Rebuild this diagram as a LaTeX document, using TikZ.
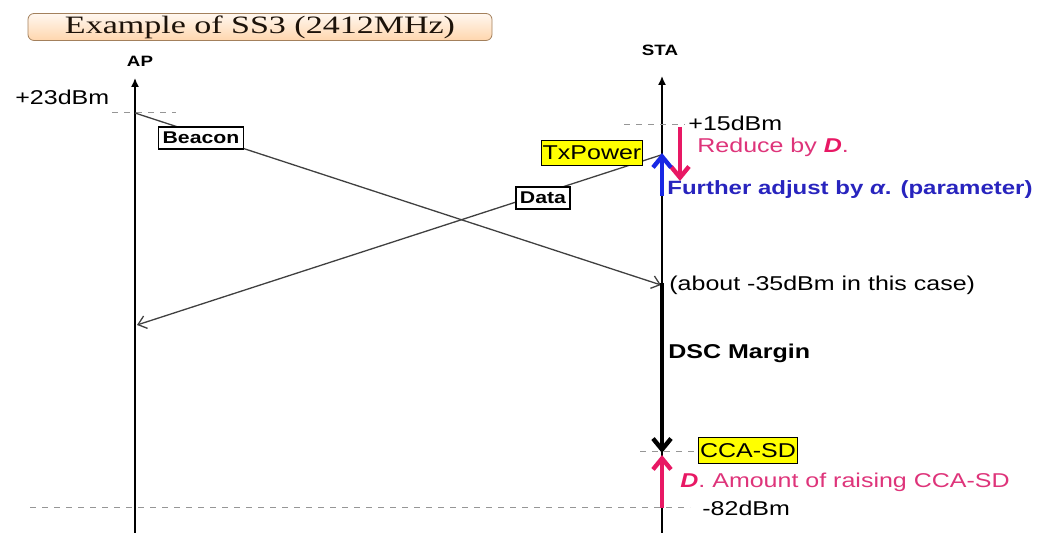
\documentclass[tikz,border=0pt]{standalone}
\usepackage{graphicx, amsmath, fontspec}
\setmainfont{Liberation Sans}[FakeStretch=1.25]
\newfontfamily\titlefont{Liberation Serif}[FakeStretch=1.36]
\usetikzlibrary{arrows.meta}

\definecolor{rosered}{RGB}{232,24,100}
\definecolor{rosetext}{RGB}{222,52,122}
\definecolor{adjblue}{RGB}{24,40,228}
\definecolor{adjtext}{RGB}{40,36,190}
\definecolor{guide}{RGB}{150,150,150}
\definecolor{msgline}{RGB}{64,64,64}
\definecolor{hilite}{RGB}{255,255,0}

\begin{document}
\begin{tikzpicture}[x=0.5pt, y=-0.5pt,
    lbl/.style={inner sep=0pt, anchor=west, font=\fontsize{10}{12}\selectfont},
    boldlbl/.style={inner sep=0pt, font=\fontsize{7.5}{9}\selectfont\bfseries},
    msgbox/.style={draw, fill=white, inner xsep=2pt, inner ysep=2.5pt, line width=0.6pt, font=\fontsize{8.5}{10}\selectfont\bfseries},
    markbox/.style={draw, fill=hilite, inner xsep=0.8pt, inner ysep=2.8pt, line width=0.5pt, font=\fontsize{10}{12}\selectfont},
    axis/.style={line width=0.75pt, -{Latex[length=4.5pt,width=4pt]}},
    msg/.style={draw=msgline, line width=0.65pt, -{Straight Barb[length=4pt,width=6.5pt]}},
    level/.style={draw=guide, dashed, line width=0.5pt},
    bigarrow/.style={line width=2.2pt, -{Straight Barb[length=5.5pt,width=9pt]}}]
    \useasboundingbox (0,0) rectangle (1045,533);

    % Title
    \node[draw=brown!55!gray, rounded corners=3pt, top color=orange!6, bottom color=orange!32,
          minimum width=232pt, minimum height=13.5pt, inner sep=0pt,
          font=\titlefont\fontsize{12.5}{13}\selectfont, text=black!85!brown] (title) at (260,27) {Example of SS3 (2412MHz)};

    % Axes
    \node[boldlbl] (ap) at (140,61) {AP};
    \node[boldlbl] (sta) at (660,50) {STA};
    \coordinate (apbot) at (135,533);
    \coordinate (aptop) at (135,78);
    \coordinate (stabot) at (662,533);
    \coordinate (statop) at (662,76);
    \draw[axis] (apbot) -- (aptop);
    \draw[axis] (stabot) -- (statop);

    % Levels
    \coordinate (l23a) at (112,113);   \coordinate (l23b) at (176,113);
    \coordinate (l15a) at (624,125);   \coordinate (l15b) at (685,125);
    \coordinate (lccaa) at (640,452);  \coordinate (lccab) at (700,452);
    \coordinate (l82a) at (30,508);    \coordinate (l82b) at (690,508);
    \draw[level] (l23a) -- (l23b);
    \draw[level] (l15a) -- (l15b);
    \draw[level] (lccaa) -- (lccab);
    \draw[level] (l82a) -- (l82b);

    % Messages
    \coordinate (aptx) at (135,113);
    \coordinate (starx) at (661,285);
    \coordinate (statx) at (661,155);
    \coordinate (aprx) at (137,325);
    \draw[msg] (aptx) -- (starx);
    \draw[msg] (statx) -- (aprx);
    \node[msgbox] (beacon) at (201,138) {Beacon};
    \node[msgbox] (data) at (543,198) {Data};
    \node[markbox] (txpower) at (592,153) {TxPower};

    % Power adjustments
    \coordinate (redtop) at (680,127);  \coordinate (redbot) at (680,181);
    \coordinate (bluebot) at (662,196); \coordinate (bluetop) at (662,153);
    \draw[bigarrow, rosered] (redtop) -- (redbot);
    \draw[bigarrow, adjblue] (bluebot) -- (bluetop);
    \coordinate (dsctop) at (662,283);  \coordinate (dscbot) at (662,453);
    \draw[bigarrow, black] (dsctop) -- (dscbot);
    \coordinate (raisebot) at (662,508); \coordinate (raisetop) at (662,455);
    \draw[bigarrow, rosered] (raisebot) -- (raisetop);

    % Labels
    \node[lbl] (p23) at (15,97) {+23dBm};
    \node[lbl] (p15) at (688,123) {+15dBm};
    \node[lbl, text=rosetext] (reduce) at (697,147) {Reduce by \textcolor{rosered}{\textbf{\textit{D}}}.};
    \node[lbl, text=adjtext, font=\fontsize{9.6}{12}\selectfont\bfseries] (further) at (667,190) {Further adjust by \textit{α}. (parameter)};
    \node[lbl] (about) at (669,285) {(about -35dBm in this case)};
    \node[lbl, font=\fontsize{10}{12}\selectfont\bfseries] (dsc) at (668,353) {DSC Margin};
    \node[markbox] (ccasd) at (748,450.5) {CCA-SD};
    \node[lbl, text=rosetext] (amount) at (680,482) {\textcolor{rosered}{\textbf{\textit{D}}}. Amount of raising CCA-SD};
    \node[lbl] (m82) at (702,508) {-82dBm};
\end{tikzpicture}
\end{document}
